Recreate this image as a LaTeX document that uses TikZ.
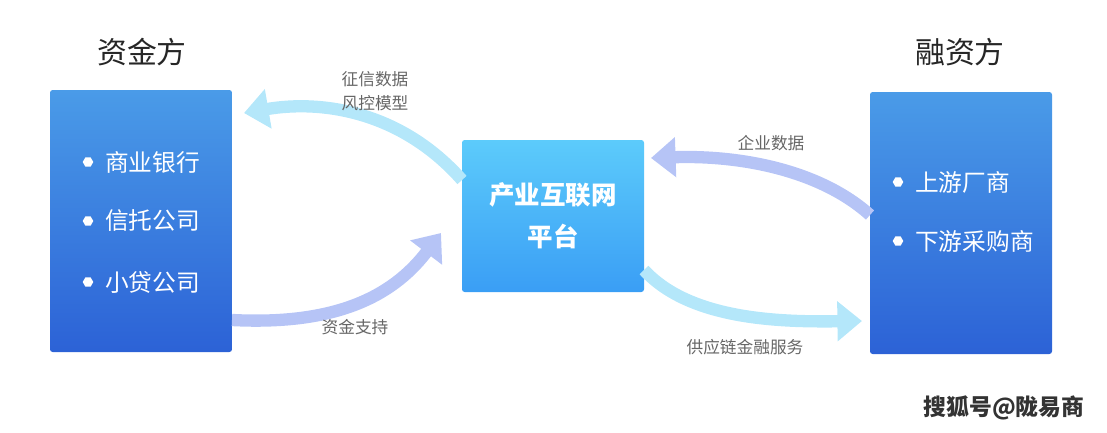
\documentclass[tikz,border=0pt]{standalone}
\usepackage{fontspec}
\setmainfont{Noto Sans CJK SC}
\usetikzlibrary{arrows.meta,shapes.geometric}
\definecolor{boxtop}{HTML}{4A9BE8}
\definecolor{boxbot}{HTML}{2C62D6}
\definecolor{midtop}{HTML}{5CCBFB}
\definecolor{midbot}{HTML}{3A9EF5}
\definecolor{cyanflow}{HTML}{B4E7FA}
\definecolor{blueflow}{HTML}{B6C4F6}
\tikzset{
    party/.style={rectangle, rounded corners=1.5pt, minimum width=182*0.02cm, top color=boxtop, bottom color=boxbot, draw=none},
    hub/.style={rectangle, rounded corners=1.5pt, minimum width=182*0.02cm, minimum height=152*0.02cm, top color=midtop, bottom color=midbot, draw=none, text=white, font=\fontsize{14.5}{24}\selectfont\bfseries, align=center},
    item/.style={text=white, font=\fontsize{13.5}{16}\selectfont, anchor=west},
    bullet/.style={regular polygon, regular polygon sides=6, fill=white, inner sep=0pt, minimum size=6pt},
    title/.style={font=\fontsize{17}{20}\selectfont, text=black!85},
    flowlabel/.style={font=\fontsize{9.5}{14}\selectfont, text=black!60, align=center},
    flow/.style={line width=7pt, -{Triangle[length=14pt,width=22pt]}}
}
\begin{document}
\begin{tikzpicture}[x=0.02cm, y=-0.02cm]
\useasboundingbox (0,0) rectangle (1107,433);
\node (lender) [party, minimum height=262*0.02cm] at (141,221) {};
\node (borrower) [party, minimum height=262*0.02cm] at (961,223) {};
\node (platform) [hub] at (553,216) {产业互联网\\平台};
\node [title] at (142,52) {资金方};
\node [title] at (960,52) {融资方};
\foreach \y/\t in {162/商业银行, 221/信托公司, 282/小贷公司} {
    \node [bullet] at (88,\y) {};
    \node [item] at (99,\y) {\t};
}
\foreach \y/\t in {182/上游厂商, 241/下游采购商} {
    \node [bullet] at (898,\y) {};
    \node [item] at (909,\y) {\t};
}
\coordinate (a1) at (462,180);
\coordinate (a2) at (244,113);
\coordinate (b1) at (232,320);
\coordinate (b2) at (441,233);
\coordinate (c1) at (870,215);
\coordinate (c2) at (651,158);
\coordinate (d1) at (644,270);
\coordinate (d2) at (862,321);
\draw [flow, cyanflow] (a1) .. controls (400,110) and (320,100) .. (a2);
\draw [flow, blueflow] (b1) .. controls (330,325) and (390,300) .. (b2);
\draw [flow, blueflow] (c1) .. controls (820,170) and (740,155) .. (c2);
\draw [flow, cyanflow] (d1) .. controls (690,320) and (780,322) .. (d2);
\node [flowlabel] at (375,91) {征信数据\\风控模型};
\node [flowlabel] at (355,327) {资金支持};
\node [flowlabel] at (771,143) {企业数据};
\node [flowlabel] at (745,347) {供应链金融服务};
\node [font=\fontsize{13}{15}\selectfont\bfseries, text=black!80] at (1004,408) {搜狐号@陇易商};
\end{tikzpicture}
\end{document}
